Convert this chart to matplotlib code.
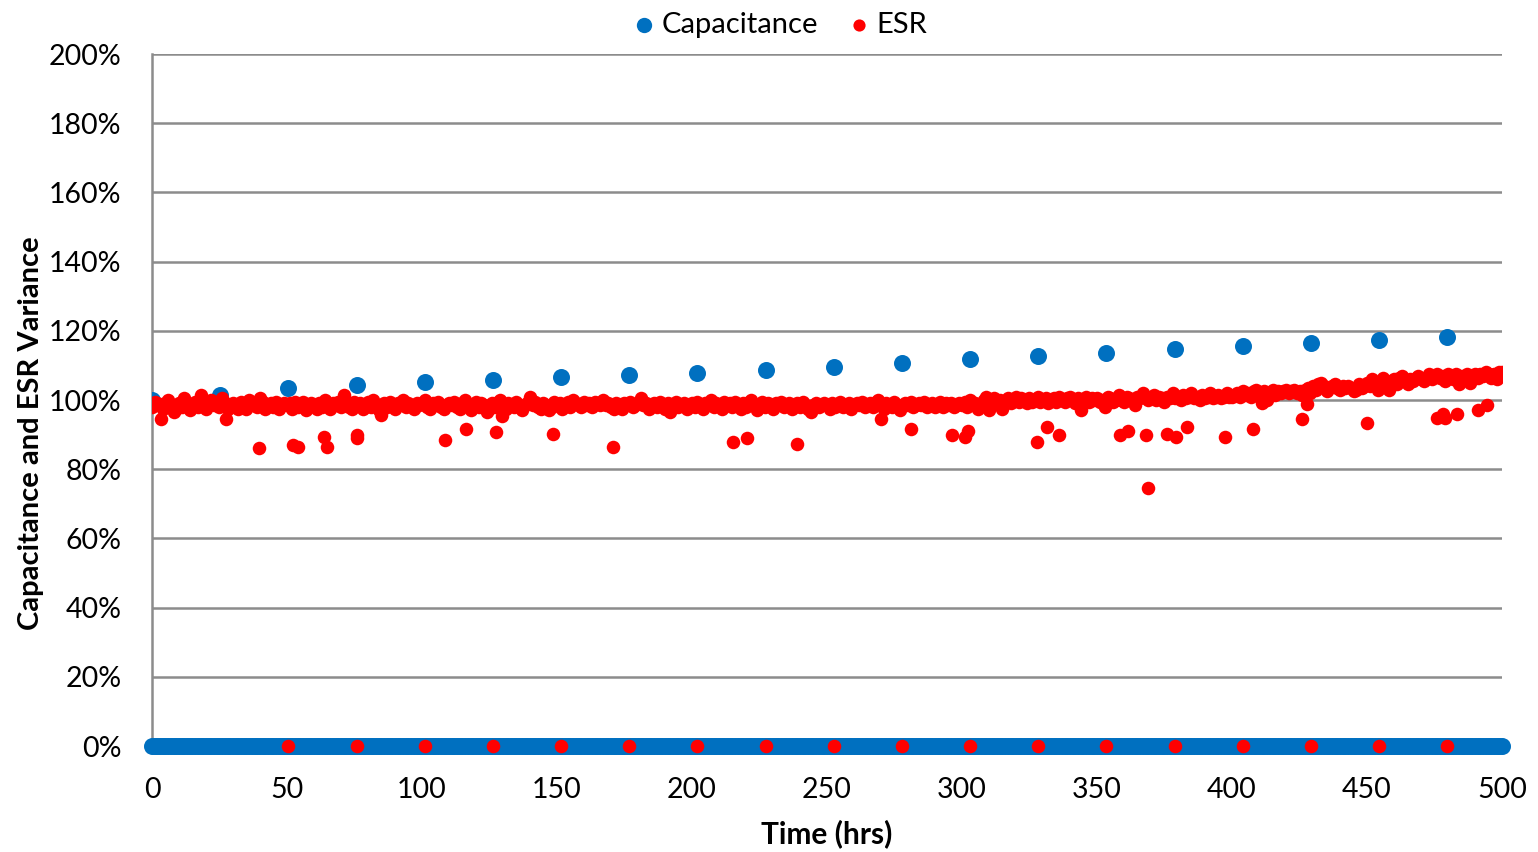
import numpy as np
import matplotlib
matplotlib.use("Agg")
import matplotlib.pyplot as plt
from matplotlib.ticker import FuncFormatter

plt.rcParams['font.family'] = ['Lato', 'DejaVu Sans']

# capacitance readings (hrs, % of initial)
cap_hrs = [0, 25.3, 50.5, 75.8, 101, 126.3, 151.5, 176.8, 202, 227.3,
           252.5, 277.8, 303, 328.3, 353.5, 378.8, 404, 429.3, 454.5, 479.8]
cap_vals = [100.0, 101.4, 103.5, 104.3, 105.2, 105.8, 106.6, 107.2, 107.8, 108.7,
            109.5, 110.7, 111.8, 112.7, 113.6, 114.7, 115.6, 116.5, 117.3, 118.2]
# zero entries of capacitance column (one per hour)
cap_zero_hrs = np.arange(0, 501)

# ESR, one reading per hour 0..500
esr_vals = [
    98.0, 99.5, 99.0, 98.5, 97.5, 99.0, 100.0, 98.5, 96.5, 97.5, 99.0, 98.0, 100.5, 99.0, 97.0, 98.5, 99.5, 98.0, 101.5, 98.5,
    97.5, 99.0, 100.0, 98.5, 99.5, 98.0, 100.5, 99.0, 97.5, 98.5, 99.0, 98.0, 97.5, 99.5, 98.5, 97.5, 100.0, 98.5, 99.0, 98.0,
    100.5, 99.5, 97.5, 98.5, 99.0, 98.0, 99.5, 97.5, 98.5, 99.0,
    98.5, 99.0, 97.5, 99.5, 98.0, 98.5, 99.5, 97.0, 98.0, 99.0, 98.5, 97.5, 99.0, 98.0, 100.0, 98.5, 97.5, 99.0, 98.5, 99.5,
    98.0, 101.5, 99.0, 98.0, 97.5, 99.5, 98.5, 99.0, 97.5, 98.0, 99.5, 98.0, 100.0, 98.5, 97.0, 98.5, 99.0, 98.0, 99.5, 98.5,
    97.5, 99.0, 98.5, 100.0, 98.0, 99.0, 98.5, 97.5, 99.0, 98.5,
    99.0, 100.0, 98.0, 97.5, 99.0, 98.5, 99.5, 98.0, 97.5, 98.5, 99.0, 98.5, 99.5, 98.0, 97.5, 99.0, 100.0, 98.5, 97.0, 98.5,
    99.5, 98.0, 99.0, 98.5, 96.5, 97.5, 99.0, 98.0, 99.5, 100.0, 98.5, 97.5, 99.0, 98.5, 98.0, 99.5, 98.0, 97.0, 98.5, 99.0,
    101.0, 98.5, 99.5, 98.0, 97.5, 99.0, 98.5, 97.0, 98.0, 99.5,
    98.5, 99.0, 97.5, 98.5, 99.5, 98.0, 100.0, 99.0, 98.5, 98.0, 99.5, 98.5, 99.0, 98.0, 99.5, 99.0, 98.5, 100.0, 98.5, 99.0,
    98.0, 97.5, 99.0, 98.5, 97.5, 99.0, 98.5, 99.5, 98.0, 98.5, 99.0, 100.5, 98.5, 99.0, 97.5, 98.5, 99.0, 98.0, 99.5, 98.5,
    97.5, 99.0, 96.5, 98.5, 99.5, 98.0, 98.5, 99.0, 97.5, 98.5,
    99.0, 98.0, 99.5, 98.5, 97.5, 99.0, 98.5, 100.0, 98.0, 99.0, 98.5, 97.5, 99.5, 98.5, 99.0, 98.0, 99.5, 98.5, 97.5, 99.0,
    98.0, 99.5, 100.0, 98.5, 97.0, 98.5, 99.5, 98.0, 99.0, 98.5, 97.5, 99.0, 98.5, 99.5, 98.0, 98.5, 99.0, 97.5, 98.5, 99.0,
    98.0, 99.5, 98.5, 97.5, 96.5, 98.5, 99.0, 98.0, 98.5, 99.0,
    98.5, 97.5, 99.0, 98.0, 98.5, 99.5, 98.0, 98.5, 99.0, 97.5, 98.5, 99.0, 98.5, 99.5, 98.0, 98.5, 99.0, 98.0, 99.5, 100.0,
    98.5, 97.5, 99.0, 98.5, 98.0, 99.5, 98.5, 97.0, 98.5, 99.0, 98.5, 99.5, 98.0, 98.5, 99.0, 98.5, 99.5, 98.0, 98.5, 99.0,
    98.0, 98.5, 99.5, 98.0, 99.0, 98.5, 99.0, 98.0, 98.5, 99.0,
    98.5, 99.5, 98.0, 100.0, 98.5, 99.0, 97.5, 98.5, 100.0, 101.0, 97.0, 99.5, 100.5, 99.0, 100.0, 97.5, 99.5, 100.5, 99.0, 100.0,
    101.0, 99.5, 100.5, 100.0, 99.0, 100.5, 99.5, 100.0, 101.0, 99.5, 100.0, 100.5, 99.0, 100.0, 100.5, 99.5, 101.0, 100.0, 99.5, 100.5,
    101.0, 100.0, 99.0, 100.5, 97.0, 100.0, 101.0, 99.5, 100.5, 100.0,
    100.5, 99.5, 100.0, 98.0, 101.0, 100.5, 99.5, 100.0, 101.5, 100.0, 99.5, 101.0, 100.5, 100.0, 98.5, 101.0, 100.5, 102.0, 101.0, 100.0,
    100.5, 101.5, 100.0, 101.0, 100.5, 99.5, 101.0, 100.5, 102.0, 100.5, 101.0, 100.0, 101.5, 100.5, 101.0, 102.0, 100.5, 101.0, 100.0, 101.5,
    100.5, 101.0, 102.0, 100.5, 101.0, 101.5, 100.5, 101.0, 102.0, 101.0,
    101.0, 101.5, 102.0, 101.0, 102.5, 101.5, 102.0, 101.0, 102.5, 103.0, 101.5, 99.0, 102.5, 100.0, 102.0, 103.0, 101.5, 102.5, 102.0, 102.5,
    103.0, 102.0, 102.5, 103.0, 102.0, 102.5, 101.5, 103.0, 103.5, 102.0, 104.0, 103.0, 104.5, 105.0, 104.0, 102.5, 103.5, 104.0, 104.5, 103.5,
    103.0, 104.0, 103.5, 104.0, 103.5, 102.5, 103.0, 104.5, 103.5, 104.0,
    105.0, 104.0, 106.0, 104.5, 103.0, 105.5, 106.5, 104.5, 103.0, 105.5, 106.0, 104.5, 106.5, 107.0, 105.5, 104.5, 106.0, 105.5, 106.5, 107.0,
    106.0, 105.5, 106.5, 107.5, 106.0, 107.0, 107.5, 106.5, 107.0, 105.5, 107.5, 107.0, 106.0, 107.5, 104.5, 107.0, 106.5, 107.5, 105.0, 107.0,
    107.5, 106.5, 107.5, 107.0, 108.0, 107.5, 106.5, 107.5, 106.0, 108.0, 108.0,
]
esr_hrs = np.arange(len(esr_vals))

# low ESR readings off the main band
dip_hrs = [3.2, 27.4, 39.5, 52.3, 54.2, 63.7, 64.9, 75.8, 76.0, 85.0, 108.4, 116.3, 127.4, 129.5, 148.6,
           170.9, 215.3, 220.4, 238.8, 269.9, 281.0, 296.3, 301.1, 302.3, 327.7, 331.6, 335.8,
           358.5, 361.4, 368.1, 369.0, 376.0, 379.3, 383.2, 397.3, 407.7, 425.8, 427.7, 449.9,
           475.8, 478.3, 478.9, 483.2, 491.2, 494.3]
dip_vals = [94.5, 94.4, 86.0, 87.0, 86.3, 89.4, 86.3, 88.9, 89.9, 95.8, 88.3, 91.5, 90.8, 95.5, 90.2,
            86.3, 88.0, 89.1, 87.3, 94.4, 91.5, 90.0, 89.4, 91.1, 88.0, 92.3, 89.9,
            89.9, 91.0, 89.9, 74.5, 90.2, 89.4, 92.3, 89.4, 91.6, 94.4, 98.8, 93.4,
            94.7, 96.1, 94.7, 96.1, 97.1, 98.5]

# zero ESR entries
esr_zero_hrs = cap_hrs[2:]

blue = '#0070C0'
red = '#FF0000'

fig = plt.figure(figsize=(15.38, 8.52), dpi=100)
ax = fig.add_axes([0.0988, 0.1244, 0.8778, 0.8122])

ax.scatter(cap_zero_hrs, np.zeros(len(cap_zero_hrs)), s=150, color=blue, linewidths=0, zorder=3, clip_on=False)
ax.scatter(cap_hrs, cap_vals, s=150, color=blue, linewidths=0, zorder=3, label='Capacitance')
ax.scatter(esr_hrs, esr_vals, s=95, color=red, linewidths=0, zorder=4, label='ESR')
ax.scatter(dip_hrs, dip_vals, s=95, color=red, linewidths=0, zorder=4)
ax.scatter(esr_zero_hrs, np.zeros(len(esr_zero_hrs)), s=95, color=red, linewidths=0, zorder=4, clip_on=False)

ax.set_xlim(0, 500)
ax.set_ylim(0, 200)
ax.set_xticks(np.arange(0, 501, 50))
ax.set_yticks(np.arange(0, 201, 20))
ax.yaxis.set_major_formatter(FuncFormatter(lambda v, p: f'{int(v)}%'))
ax.grid(axis='y', color='#8C8C8C', linewidth=1.8)
ax.set_axisbelow(True)
for side in ['top', 'right', 'bottom']:
    ax.spines[side].set_visible(False)
ax.spines['left'].set_color('#8C8C8C')
ax.spines['left'].set_linewidth(1.8)
ax.tick_params(length=0, labelsize=20.5)
ax.tick_params(axis='y', pad=22)
ax.tick_params(axis='x', pad=22)

ax.set_xlabel('Time (hrs)', fontsize=21.5, fontweight='bold', labelpad=12)
ax.set_ylabel('Capacitance and ESR Variance', fontsize=21, fontweight='bold')
ax.yaxis.set_label_coords(-0.08, 0.452)

leg = ax.legend(loc='lower center', bbox_to_anchor=(0.465, 0.985), ncol=2, frameon=False,
                fontsize=21, handlelength=0.8, handletextpad=0.2, columnspacing=1.0, markerscale=0.9)

fig.savefig('out.png', dpi=100)
